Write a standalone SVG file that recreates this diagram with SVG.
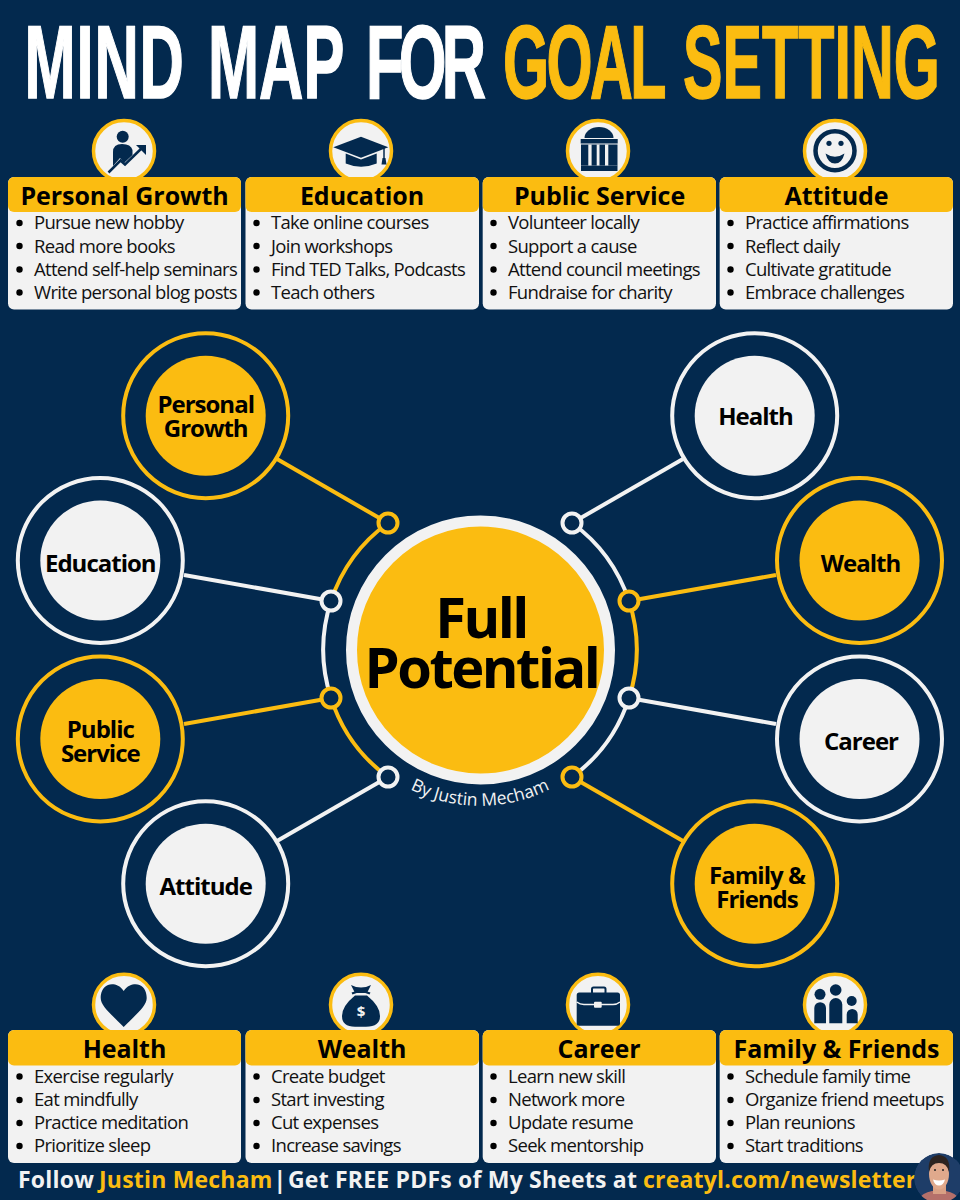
<svg xmlns="http://www.w3.org/2000/svg" width="960" height="1200" viewBox="0 0 960 1200">
<defs>
<style>
text{font-family:"Open Sans","Noto Sans","DejaVu Sans",sans-serif;fill:#000}
.title{font-family:"Liberation Sans",sans-serif;font-weight:700;font-size:104px;stroke-width:1.5}
.w{fill:#fff;stroke:#fff}.gt{fill:#fbbc11;stroke:#fbbc11}
.card{fill:#f2f2f2}.head{fill:#fbbc11}
.ct{font-weight:700;font-size:25px;text-anchor:middle;letter-spacing:-.05px}
.li{font-size:18.5px;letter-spacing:-.69px;fill:#111}
.bl{fill:#000}
.nt{font-weight:700;font-size:24px;text-anchor:middle;letter-spacing:-1px}
.hubt{font-weight:700;font-size:56px;text-anchor:middle;letter-spacing:-2.500px}
.ic{fill:#f2f2f2;stroke:#fbbc11;stroke-width:3.5}
.nv{fill:#03294e}
.gl{fill:none;stroke:#fbbc11;stroke-width:4}
.wl{fill:none;stroke:#f2f2f2;stroke-width:4}
.ringg{fill:#03294e;stroke:#fbbc11;stroke-width:4}
.ringw{fill:#03294e;stroke:#f2f2f2;stroke-width:4}
.ft{font-weight:700;font-size:23px;fill:#f2f2f2;letter-spacing:.2px}
</style>
<clipPath id="pc"><circle cx="939" cy="1178" r="25"/></clipPath>
<path id="byarc" d="M380,769.500 A156,156 0 0 0 580,769.500"/>
</defs>
<rect width="960" height="1200" fill="#03294e"/>
<g id="title">
<text class="title w" y="98.500" transform="scale(.59 1)"><tspan x="41.500" letter-spacing="1.500">MIND</tspan> <tspan x="352.500">MAP</tspan> <tspan x="620.300" letter-spacing="-8">FOR</tspan></text>
<text class="title gt" y="98.500" transform="scale(.57 1)"><tspan x="882.500" letter-spacing="-4.500">GOAL</tspan> <tspan x="1198.200">SETTING</tspan></text>
</g>

<g id="connectors">
<path class="gl" d="M277,459L388,523"/>
<path class="wl" d="M184,575L331,601"/>
<path class="gl" d="M184,724L331,698"/>
<path class="wl" d="M277,841L388,777"/>
<path class="wl" d="M683,459L572,523"/>
<path class="gl" d="M776,575L629,601"/>
<path class="wl" d="M776,724L629,698"/>
<path class="gl" d="M683,841L572,777"/>
<path class="gl" d="M388,523A157,157 0 0 0 331,601"/>
<path class="wl" d="M331,601A157,157 0 0 0 331,698"/>
<path class="gl" d="M331,698A157,157 0 0 0 388,777"/>
<path class="wl" d="M572,523A157,157 0 0 1 629,601"/>
<path class="gl" d="M629,601A157,157 0 0 1 629,698"/>
<path class="wl" d="M629,698A157,157 0 0 1 572,777"/>
<circle class="ringg" cx="388" cy="523" r="9.500"/>
<circle class="ringw" cx="331" cy="601" r="9.500"/>
<circle class="ringg" cx="331" cy="698" r="9.500"/>
<circle class="ringw" cx="388" cy="777" r="9.500"/>
<circle class="ringw" cx="572" cy="523" r="9.500"/>
<circle class="ringg" cx="629" cy="601" r="9.500"/>
<circle class="ringw" cx="629" cy="698" r="9.500"/>
<circle class="ringg" cx="572" cy="777" r="9.500"/>
</g>

<g id="hub">
<circle cx="480.500" cy="650" r="129" fill="#fbbc11" stroke="#f2f2f2" stroke-width="11"/>
<text class="hubt" x="481" y="638">Full</text>
<text class="hubt" x="481.500" y="688">Potential</text>
<text font-size="17.500" style="fill:#f2f2f2"><textPath href="#byarc" startOffset="50%" text-anchor="middle">By Justin Mecham</textPath></text>
</g>

<g id="node-personal-growth">
<circle class="ringg" cx="205.700" cy="415.700" r="82.500"/><circle class="head" cx="205.700" cy="415.700" r="60"/>
<text class="nt" x="205.700" y="413">Personal</text><text class="nt" x="205.700" y="436.700">Growth</text>
</g>
<g id="node-education">
<circle class="ringw" cx="100.300" cy="560.500" r="82.500"/><circle class="card" cx="100.300" cy="560.500" r="60"/>
<text class="nt" x="100.300" y="572">Education</text>
</g>
<g id="node-public-service">
<circle class="ringg" cx="100.300" cy="739" r="82.500"/><circle class="head" cx="100.300" cy="739" r="60"/>
<text class="nt" x="100.300" y="738">Public</text><text class="nt" x="100.300" y="761.700">Service</text>
</g>
<g id="node-attitude">
<circle class="ringw" cx="205.700" cy="883.700" r="82.500"/><circle class="card" cx="205.700" cy="883.700" r="60"/>
<text class="nt" x="205.700" y="895">Attitude</text>
</g>
<g id="node-health">
<circle class="ringw" cx="754.700" cy="415.700" r="82.500"/><circle class="card" cx="754.700" cy="415.700" r="60"/>
<text class="nt" x="755.500" y="424.700">Health</text>
</g>
<g id="node-wealth">
<circle class="ringg" cx="859.500" cy="560.500" r="82.500"/><circle class="head" cx="859.500" cy="560.500" r="60"/>
<text class="nt" x="860.500" y="572">Wealth</text>
</g>
<g id="node-career">
<circle class="ringw" cx="859.500" cy="739" r="82.500"/><circle class="card" cx="859.500" cy="739" r="60"/>
<text class="nt" x="861" y="750">Career</text>
</g>
<g id="node-family-friends">
<circle class="ringg" cx="754.700" cy="883.700" r="82.500"/><circle class="head" cx="754.700" cy="883.700" r="60"/>
<text class="nt" x="757" y="883.700">Family &amp;</text><text class="nt" x="757" y="907.700">Friends</text>
</g>

<g id="card-personal-growth">
<circle class="ic" cx="124" cy="151" r="30.500"/>
<circle class="nv" cx="122.700" cy="136.700" r="6"/>
<path class="nv" d="M113,166L113,152Q113,144 122,144Q131,144 132.500,150L132.500,155L124,163L120,158Z"/>
<path d="M108.500,172.500L120.500,160.500L125,164.500L144,146" fill="none" stroke="#03294e" stroke-width="2.500"/>
<path class="nv" d="M136,145L146,145L146,155L143,152L139,148Z"/>
<rect class="card" x="8" y="177" width="233" height="132.500" rx="6"/>
<rect class="head" x="8" y="177" width="233" height="35" rx="6"/>
<text class="ct" x="124.500" y="205">Personal Growth</text>
<circle class="bl" cx="19.500" cy="223" r="3.200"/><circle class="bl" cx="19.500" cy="246" r="3.200"/><circle class="bl" cx="19.500" cy="269.500" r="3.200"/><circle class="bl" cx="19.500" cy="292.500" r="3.200"/>
<text class="li" x="34" y="229.300">Pursue new hobby</text><text class="li" x="34" y="252.500">Read more books</text><text class="li" x="34" y="275.700">Attend self-help seminars</text><text class="li" x="34" y="299">Write personal blog posts</text>
</g>
<g id="card-education">
<circle class="ic" cx="361" cy="151" r="30.500"/>
<path class="nv" d="M333.300,147.300L361,136.700L388.300,147.300L361,157.700Z"/>
<path class="nv" d="M345.700,153.500L361,159.500L376.700,153.500V163.500Q361,170 345.700,163.500Z"/>
<path d="M384,148V160" stroke="#03294e" stroke-width="1.500"/>
<path class="nv" d="M382.500,158H385.500L386.500,164.500H381.500Z"/>
<rect class="card" x="245.500" y="177" width="233.500" height="132.500" rx="6"/>
<rect class="head" x="245.500" y="177" width="233.500" height="35" rx="6"/>
<text class="ct" x="362" y="205">Education</text>
<circle class="bl" cx="256.500" cy="223" r="3.200"/><circle class="bl" cx="256.500" cy="246" r="3.200"/><circle class="bl" cx="256.500" cy="269.500" r="3.200"/><circle class="bl" cx="256.500" cy="292.500" r="3.200"/>
<text class="li" x="271" y="229.300">Take online courses</text><text class="li" x="271" y="252.500">Join workshops</text><text class="li" x="271" y="275.700">Find TED Talks, Podcasts</text><text class="li" x="271" y="299">Teach others</text>
</g>
<g id="card-public-service">
<circle class="ic" cx="598" cy="151" r="30.500"/>
<path class="nv" d="M584.500,138A14.500,11 0 0 1 613.500,138Z"/>
<rect class="nv" x="580.700" y="139" width="37" height="4.500"/>
<rect class="nv" x="581" y="144.500" width="36.500" height="21"/>
<rect class="nv" x="581" y="165.500" width="36.500" height="5.500"/>
<rect class="card" x="588.300" y="144.500" width="3.300" height="21"/><rect class="card" x="596.700" y="144.500" width="2.800" height="21"/><rect class="card" x="605" y="144.500" width="3.300" height="21"/>
<rect class="card" x="482.700" y="177" width="233.300" height="132.500" rx="6"/>
<rect class="head" x="482.700" y="177" width="233.300" height="35" rx="6"/>
<text class="ct" x="599.500" y="205">Public Service</text>
<circle class="bl" cx="493.500" cy="223" r="3.200"/><circle class="bl" cx="493.500" cy="246" r="3.200"/><circle class="bl" cx="493.500" cy="269.500" r="3.200"/><circle class="bl" cx="493.500" cy="292.500" r="3.200"/>
<text class="li" x="508" y="229.300">Volunteer locally</text><text class="li" x="508" y="252.500">Support a cause</text><text class="li" x="508" y="275.700">Attend council meetings</text><text class="li" x="508" y="299">Fundraise for charity</text>
</g>
<g id="card-attitude">
<circle class="ic" cx="835" cy="151" r="30.500"/>
<circle cx="835" cy="150.700" r="19.500" fill="none" stroke="#03294e" stroke-width="4.500"/>
<circle class="nv" cx="829" cy="143.300" r="2.600"/><circle class="nv" cx="841" cy="143.300" r="2.600"/>
<path class="nv" d="M825.500,153.500Q835,160 844.500,153.500Q842,163.500 835,163.500Q828,163.500 825.500,153.500Z"/>
<rect class="card" x="719.700" y="177" width="233.300" height="132.500" rx="6"/>
<rect class="head" x="719.700" y="177" width="233.300" height="35" rx="6"/>
<text class="ct" x="836.500" y="205">Attitude</text>
<circle class="bl" cx="730.500" cy="223" r="3.200"/><circle class="bl" cx="730.500" cy="246" r="3.200"/><circle class="bl" cx="730.500" cy="269.500" r="3.200"/><circle class="bl" cx="730.500" cy="292.500" r="3.200"/>
<text class="li" x="745" y="229.300">Practice affirmations</text><text class="li" x="745" y="252.500">Reflect daily</text><text class="li" x="745" y="275.700">Cultivate gratitude</text><text class="li" x="745" y="299">Embrace challenges</text>
</g>

<g id="card-health">
<circle class="ic" cx="124" cy="1004.700" r="30.500"/>
<path class="nv" d="M123.700,991C119,984 112,983.500 108,985C102.500,987 100.700,993 100.700,998C100.700,1006 111,1014 123.700,1027C136.500,1014 146.700,1006 146.700,998C146.700,993 145,987 139.500,985C135.500,983.500 128.500,984 123.700,991Z"/>
<rect class="card" x="8" y="1030" width="233" height="133" rx="6"/>
<rect class="head" x="8" y="1030" width="233" height="35.500" rx="6"/>
<text class="ct" x="124.500" y="1058">Health</text>
<circle class="bl" cx="19.500" cy="1076.500" r="3.200"/><circle class="bl" cx="19.500" cy="1100" r="3.200"/><circle class="bl" cx="19.500" cy="1123" r="3.200"/><circle class="bl" cx="19.500" cy="1146" r="3.200"/>
<text class="li" x="34" y="1082.700">Exercise regularly</text><text class="li" x="34" y="1105.800">Eat mindfully</text><text class="li" x="34" y="1129">Practice meditation</text><text class="li" x="34" y="1152">Prioritize sleep</text>
</g>
<g id="card-wealth">
<circle class="ic" cx="361" cy="1004.700" r="30.500"/>
<path class="nv" d="M351,985Q361,990 371,985L367,993H355Z"/>
<path d="M352,993.500Q361,989.500 370,993.500" fill="none" stroke="#03294e" stroke-width="2.200"/>
<path class="nv" d="M355,995.500H367Q380,1006 380,1016Q380,1026.700 366,1026.700H355Q342,1026.700 342,1016Q342,1006 355,995.500Z"/>
<text x="361" y="1017" font-size="15" font-weight="700" text-anchor="middle" style="fill:#f2f2f2">$</text>
<rect class="card" x="245.500" y="1030" width="233.500" height="133" rx="6"/>
<rect class="head" x="245.500" y="1030" width="233.500" height="35.500" rx="6"/>
<text class="ct" x="362" y="1058">Wealth</text>
<circle class="bl" cx="256.500" cy="1076.500" r="3.200"/><circle class="bl" cx="256.500" cy="1100" r="3.200"/><circle class="bl" cx="256.500" cy="1123" r="3.200"/><circle class="bl" cx="256.500" cy="1146" r="3.200"/>
<text class="li" x="271" y="1082.700">Create budget</text><text class="li" x="271" y="1105.800">Start investing</text><text class="li" x="271" y="1129">Cut expenses</text><text class="li" x="271" y="1152">Increase savings</text>
</g>
<g id="card-career">
<circle class="ic" cx="598" cy="1004.700" r="30.500"/>
<rect x="592" y="987.500" width="13.500" height="6.500" rx="1.500" fill="none" stroke="#03294e" stroke-width="2"/>
<rect class="nv" x="576.700" y="992.500" width="43.300" height="33.200" rx="2.500"/>
<path d="M576.700,1002Q580,1004.500 584,1004.500H613Q617,1004.500 620,1002" fill="none" stroke="#f2f2f2" stroke-width="1.500"/>
<rect class="card" x="594" y="1001.700" width="7.700" height="6" rx="1"/>
<rect class="card" x="482.700" y="1030" width="233.300" height="133" rx="6"/>
<rect class="head" x="482.700" y="1030" width="233.300" height="35.500" rx="6"/>
<text class="ct" x="599" y="1058">Career</text>
<circle class="bl" cx="493.500" cy="1076.500" r="3.200"/><circle class="bl" cx="493.500" cy="1100" r="3.200"/><circle class="bl" cx="493.500" cy="1123" r="3.200"/><circle class="bl" cx="493.500" cy="1146" r="3.200"/>
<text class="li" x="508" y="1082.700">Learn new skill</text><text class="li" x="508" y="1105.800">Network more</text><text class="li" x="508" y="1129">Update resume</text><text class="li" x="508" y="1152">Seek mentorship</text>
</g>
<g id="card-family-friends">
<circle class="ic" cx="835" cy="1004.700" r="30.500"/>
<circle class="nv" cx="835.700" cy="990" r="5.800"/><circle class="nv" cx="820" cy="994.300" r="5.500"/><circle class="nv" cx="851.700" cy="1001" r="5"/>
<path class="nv" d="M829.300,1023.300V1004.500A6.500,6.500 0 0 1 842.300,1004.500V1023.300Z"/>
<path class="nv" d="M814.300,1023.300V1008A5.800,5.800 0 0 1 826,1008V1023.300Z"/>
<path class="nv" d="M846.700,1023.300V1014.500A5.500,5.500 0 0 1 857.700,1014.500V1023.300Z"/>
<rect class="card" x="719.700" y="1030" width="233.300" height="133" rx="6"/>
<rect class="head" x="719.700" y="1030" width="233.300" height="35.500" rx="6"/>
<text class="ct" x="836.500" y="1058">Family &amp; Friends</text>
<circle class="bl" cx="730.500" cy="1076.500" r="3.200"/><circle class="bl" cx="730.500" cy="1100" r="3.200"/><circle class="bl" cx="730.500" cy="1123" r="3.200"/><circle class="bl" cx="730.500" cy="1146" r="3.200"/>
<text class="li" x="745" y="1082.700">Schedule family time</text><text class="li" x="745" y="1105.800">Organize friend meetups</text><text class="li" x="745" y="1129">Plan reunions</text><text class="li" x="745" y="1152">Start traditions</text>
</g>

<g id="footer">
<text class="ft" y="1188"><tspan x="18">Follow</tspan> <tspan x="99" style="fill:#fbbc11">Justin Mecham</tspan> <tspan x="273.500">|</tspan> <tspan x="288">Get FREE PDFs of My Sheets at</tspan> <tspan x="643" style="fill:#fbbc11">creatyl.com/newsletter</tspan></text>
<g clip-path="url(#pc)">
<circle cx="939" cy="1178" r="25" fill="#1e3d68"/>
<path d="M916,1204Q920,1193 932,1191L946,1191Q958,1193 962,1204Z" fill="#b5706a"/>
<rect x="933" y="1184" width="13" height="10" fill="#d9a084"/>
<ellipse cx="939" cy="1174" rx="10" ry="15.500" fill="#e0a98c"/>
<path d="M929,1172Q927,1156 939,1155Q951,1156 949,1172Q947,1163 939,1163Q931,1163 929,1172Z" fill="#2c2320"/>
<path d="M933,1179.500Q939,1181.500 945,1179.500Q943.500,1185.500 939,1185.500Q934.500,1185.500 933,1179.500Z" fill="#fff"/>
<circle cx="935" cy="1170" r="1" fill="#222"/><circle cx="943" cy="1170" r="1" fill="#222"/>
</g>
</g>
</svg>
